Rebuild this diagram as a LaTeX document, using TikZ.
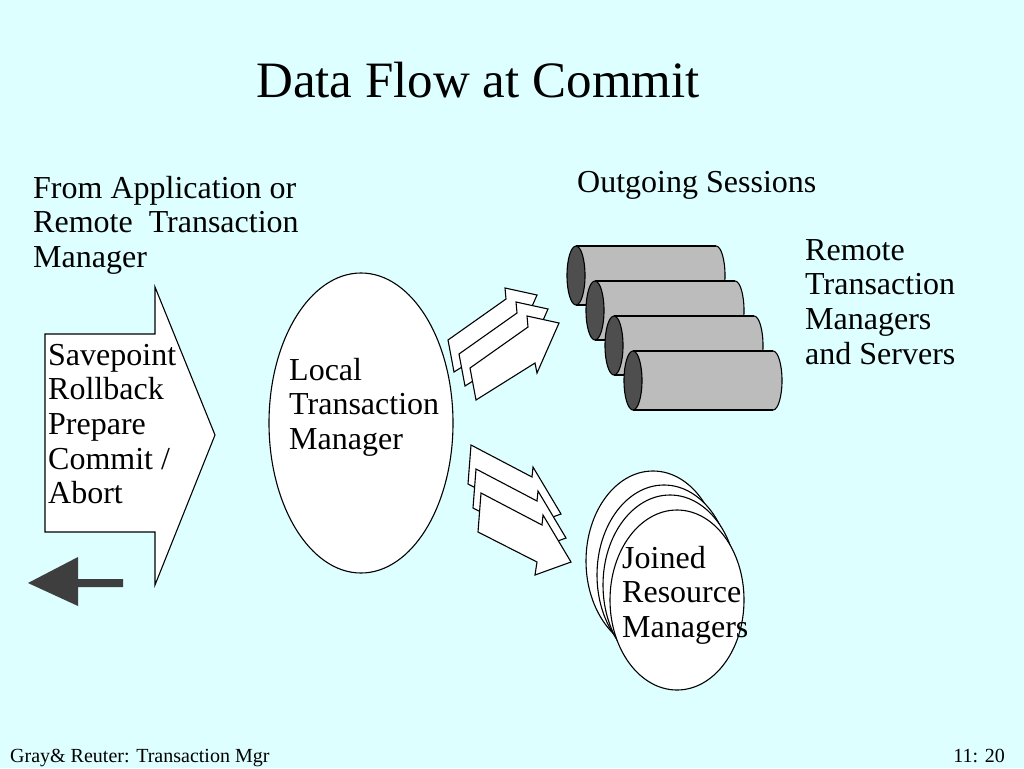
\documentclass[tikz,border=0pt]{standalone}
\usepackage{fontspec}
\setmainfont{Liberation Serif}
\usetikzlibrary{shapes.geometric}
\definecolor{bgcyan}{RGB}{221,255,255}
\definecolor{cylbody}{RGB}{188,188,188}
\definecolor{cyldark}{RGB}{78,78,78}
\definecolor{arrdark}{RGB}{62,62,62}
\begin{document}
\begin{tikzpicture}[x=1pt,y=-1pt,
  blk/.style={draw=black, line width=1.1pt, fill=white, line join=miter},
  txt/.style={inner sep=0pt, anchor=base west, font=\fontsize{32}{34.7}\selectfont},
  cylfill/.style={fill=cylbody},
  cyledge/.style={draw=black, line width=1.1pt},
  cylcap/.style={draw=black, line width=1.1pt, fill=cyldark},
  rmell/.style={blk, ellipse, minimum width=134pt, minimum height=180pt, inner sep=0pt}]
\fill[bgcyan] (0,0) rectangle (1024,768);
\useasboundingbox (0,0) rectangle (1024,768);

% title
\node[inner sep=0pt, anchor=base, font=\fontsize{51}{60}\selectfont] (title) at (478,97) {Data Flow at Commit};

% left texts
\node[txt] (from) at (33,198) {\parbox[t]{320pt}{\raggedright From Application or\\Remote\ \ Transaction\\Manager}};

% big input arrow
\draw[blk] (45,334) -- (155,334) -- (155,287) -- (215,435) -- (155,585) -- (155,532) -- (45,532) -- cycle;
\node[txt] (cmds) at (48,365) {\parbox[t]{220pt}{\raggedright Savepoint\\Rollback\\Prepare\\Commit /\\Abort}};

% small return arrow
\fill[arrdark] (28,583) -- (78,557) -- (78,579) -- (123,579) -- (123,587) -- (78,587) -- (78,606) -- cycle;

% local transaction manager
\node[blk, ellipse, minimum width=184pt, minimum height=300pt, inner sep=0pt] (ltm) at (361,423) {};
\node[txt] (ltmtext) at (289,380) {\parbox[t]{220pt}{\raggedright Local\\Transaction\\Manager}};

% upper arrows (to outgoing sessions)
\foreach \s in {2,1,0} {
  \draw[blk, shift={(-11*\s,-14*\s)}] (470,368) -- (528,327) -- (527,316) -- (559,323) -- (537,373) -- (535,363) -- (476,400) -- cycle;
}

% lower arrows (to resource managers)
\foreach \s in {2,1,0} {
  \draw[blk, shift={(-5*\s,-24*\s)}] (481,493) -- (542,525) -- (543,515) -- (571,562) -- (535,575) -- (537,562) -- (478,532) -- cycle;
}

% outgoing sessions (cylinders)
\node[txt] (outs) at (577,192) {Outgoing Sessions};
\foreach \i in {0,1,2,3} {
  \begin{scope}[shift={(19*\i,35*\i)}]
    \filldraw[cylfill, cyledge] (716,275.5) ellipse [x radius=9, y radius=29.5];
    \fill[cylfill] (576,246) rectangle (716,305);
    \draw[cyledge] (576,246) -- (716,246);
    \draw[cyledge] (576,305) -- (716,305);
    \draw[cylcap] (576,275.5) ellipse [x radius=9, y radius=29.5];
  \end{scope}
}
\node[txt] (rtm) at (805,260) {\parbox[t]{220pt}{\raggedright Remote\\Transaction\\Managers\\and Servers}};

% joined resource managers
\node[rmell] (rm1) at (653,561) {};
\node[rmell] (rm2) at (664,575) {};
\node[rmell] (rm3) at (670,585) {};
\node[rmell] (rm4) at (677,600) {};
\node[txt] (jrm) at (622,568) {\parbox[t]{220pt}{\raggedright Joined\\Resource\\Managers}};

% footer
\node[inner sep=0pt, anchor=base west, font=\fontsize{20}{23}\selectfont] (foot) at (10,762) {Gray\& Reuter: Transaction Mgr};
\node[inner sep=0pt, anchor=base east, font=\fontsize{20}{23}\selectfont] (pagenum) at (1005,762) {11: 20};
\end{tikzpicture}
\end{document}
